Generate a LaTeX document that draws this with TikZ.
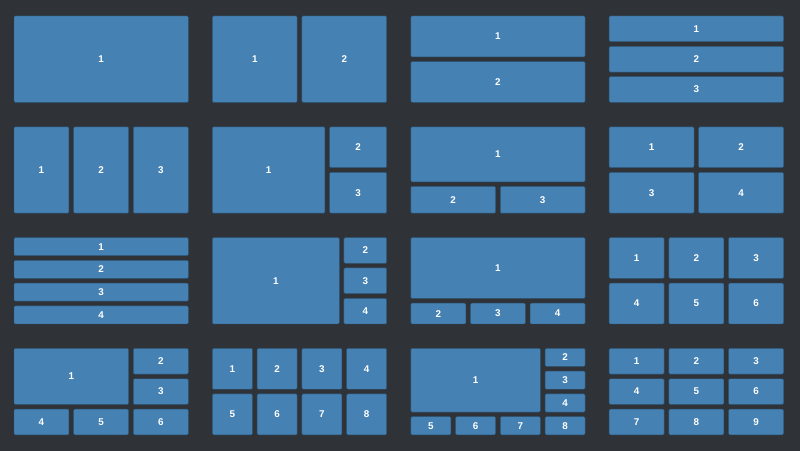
\documentclass[tikz,border=0pt]{standalone}
\usepackage{fontspec}
\usepackage{tikz}
\newfontfamily\tilefont{Liberation Sans}
\definecolor{bgdark}{HTML}{2F3337}
\definecolor{tileblue}{HTML}{4581B3}
\definecolor{tileedge}{HTML}{2E5677}

% cell size of one panel (tile + gap), in pixels
\def\cellw{179}
\def\cellh{91.1}
\def\tilegap{4.7}

\tikzset{
  tile/.style={fill=tileblue, draw=tileedge, line width=0.4pt, rounded corners=1pt},
  tilelabel/.style={text=white, font=\tilefont\bfseries\fontsize{8.4}{10}\selectfont, inner sep=0pt}
}

% \tile{name}{x from}{x to}{y from}{y to}{label}, fractions of the panel
\newcommand{\tile}[6]{%
  \draw[tile] ({#2*\cellw},{#4*\cellh}) rectangle ({#3*\cellw-\tilegap},{#5*\cellh-\tilegap});
  \node[tilelabel] (#1) at ({(#2+#3)*\cellw/2-\tilegap/2},{(#4+#5)*\cellh/2-\tilegap/2}) {#6};}

\begin{document}
\begin{tikzpicture}[x=0.3mm, y=-0.3mm]
  \fill[bgdark] (0,0) rectangle (800,451);

  % row 1
  \begin{scope}[shift={(14,16)}]
    \tile{a1}{0}{1}{0}{1}{1}
  \end{scope}
  \begin{scope}[shift={(212.4,16)}]
    \tile{b1}{0}{1/2}{0}{1}{1}
    \tile{b2}{1/2}{1}{0}{1}{2}
  \end{scope}
  \begin{scope}[shift={(410.8,16)}]
    \tile{c1}{0}{1}{0}{1/2}{1}
    \tile{c2}{0}{1}{1/2}{1}{2}
  \end{scope}
  \begin{scope}[shift={(609.2,16)}]
    \tile{d1}{0}{1}{0}{1/3}{1}
    \tile{d2}{0}{1}{1/3}{2/3}{2}
    \tile{d3}{0}{1}{2/3}{1}{3}
  \end{scope}

  % row 2
  \begin{scope}[shift={(14,126.8)}]
    \tile{e1}{0}{1/3}{0}{1}{1}
    \tile{e2}{1/3}{2/3}{0}{1}{2}
    \tile{e3}{2/3}{1}{0}{1}{3}
  \end{scope}
  \begin{scope}[shift={(212.4,126.8)}]
    \tile{f1}{0}{0.655}{0}{1}{1}
    \tile{f2}{0.655}{1}{0}{1/2}{2}
    \tile{f3}{0.655}{1}{1/2}{1}{3}
  \end{scope}
  \begin{scope}[shift={(410.8,126.8)}]
    \tile{g1}{0}{1}{0}{0.655}{1}
    \tile{g2}{0}{1/2}{0.655}{1}{2}
    \tile{g3}{1/2}{1}{0.655}{1}{3}
  \end{scope}
  \begin{scope}[shift={(609.2,126.8)}]
    \tile{h1}{0}{1/2}{0}{1/2}{1}
    \tile{h2}{1/2}{1}{0}{1/2}{2}
    \tile{h3}{0}{1/2}{1/2}{1}{3}
    \tile{h4}{1/2}{1}{1/2}{1}{4}
  \end{scope}

  % row 3
  \begin{scope}[shift={(14,237.6)}]
    \tile{i1}{0}{1}{0}{1/4}{1}
    \tile{i2}{0}{1}{1/4}{1/2}{2}
    \tile{i3}{0}{1}{1/2}{3/4}{3}
    \tile{i4}{0}{1}{3/4}{1}{4}
  \end{scope}
  \begin{scope}[shift={(212.4,237.6)}]
    \tile{j1}{0}{0.735}{0}{1}{1}
    \tile{j2}{0.735}{1}{0}{1/3}{2}
    \tile{j3}{0.735}{1}{1/3}{2/3}{3}
    \tile{j4}{0.735}{1}{2/3}{1}{4}
  \end{scope}
  \begin{scope}[shift={(410.8,237.6)}]
    \tile{k1}{0}{1}{0}{0.72}{1}
    \tile{k2}{0}{1/3}{0.72}{1}{2}
    \tile{k3}{1/3}{2/3}{0.72}{1}{3}
    \tile{k4}{2/3}{1}{0.72}{1}{4}
  \end{scope}
  \begin{scope}[shift={(609.2,237.6)}]
    \tile{l1}{0}{1/3}{0}{1/2}{1}
    \tile{l2}{1/3}{2/3}{0}{1/2}{2}
    \tile{l3}{2/3}{1}{0}{1/2}{3}
    \tile{l4}{0}{1/3}{1/2}{1}{4}
    \tile{l5}{1/3}{2/3}{1/2}{1}{5}
    \tile{l6}{2/3}{1}{1/2}{1}{6}
  \end{scope}

  % row 4
  \begin{scope}[shift={(14,348.4)}]
    \tile{m1}{0}{2/3}{0}{2/3}{1}
    \tile{m2}{2/3}{1}{0}{1/3}{2}
    \tile{m3}{2/3}{1}{1/3}{2/3}{3}
    \tile{m4}{0}{1/3}{2/3}{1}{4}
    \tile{m5}{1/3}{2/3}{2/3}{1}{5}
    \tile{m6}{2/3}{1}{2/3}{1}{6}
  \end{scope}
  \begin{scope}[shift={(212.4,348.4)}]
    \tile{n1}{0}{1/4}{0}{1/2}{1}
    \tile{n2}{1/4}{1/2}{0}{1/2}{2}
    \tile{n3}{1/2}{3/4}{0}{1/2}{3}
    \tile{n4}{3/4}{1}{0}{1/2}{4}
    \tile{n5}{0}{1/4}{1/2}{1}{5}
    \tile{n6}{1/4}{1/2}{1/2}{1}{6}
    \tile{n7}{1/2}{3/4}{1/2}{1}{7}
    \tile{n8}{3/4}{1}{1/2}{1}{8}
  \end{scope}
  \begin{scope}[shift={(410.8,348.4)}]
    \tile{o1}{0}{3/4}{0}{3/4}{1}
    \tile{o2}{3/4}{1}{0}{1/4}{2}
    \tile{o3}{3/4}{1}{1/4}{1/2}{3}
    \tile{o4}{3/4}{1}{1/2}{3/4}{4}
    \tile{o5}{0}{1/4}{3/4}{1}{5}
    \tile{o6}{1/4}{1/2}{3/4}{1}{6}
    \tile{o7}{1/2}{3/4}{3/4}{1}{7}
    \tile{o8}{3/4}{1}{3/4}{1}{8}
  \end{scope}
  \begin{scope}[shift={(609.2,348.4)}]
    \tile{q1}{0}{1/3}{0}{1/3}{1}
    \tile{q2}{1/3}{2/3}{0}{1/3}{2}
    \tile{q3}{2/3}{1}{0}{1/3}{3}
    \tile{q4}{0}{1/3}{1/3}{2/3}{4}
    \tile{q5}{1/3}{2/3}{1/3}{2/3}{5}
    \tile{q6}{2/3}{1}{1/3}{2/3}{6}
    \tile{q7}{0}{1/3}{2/3}{1}{7}
    \tile{q8}{1/3}{2/3}{2/3}{1}{8}
    \tile{q9}{2/3}{1}{2/3}{1}{9}
  \end{scope}
\end{tikzpicture}
\end{document}
